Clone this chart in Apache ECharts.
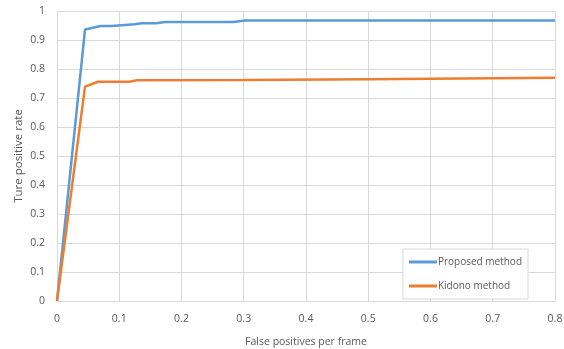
<!DOCTYPE html>
<html>
<head>
<meta charset="utf-8">
<script src="https://cdn.jsdelivr.net/npm/echarts@6/dist/echarts.min.js"></script>
<style>
  html, body { margin: 0; padding: 0; background: #fff; }
  #chart { width: 564px; height: 349px; }
</style>
</head>
<body>
<div id="chart"></div>
<script>
// false positives per frame (x) and true positive rate (y)
const proposedX = [0, 0.045, 0.07, 0.088, 0.125, 0.136, 0.16, 0.173, 0.283, 0.302, 0.8]
const proposedY = [0, 0.936, 0.948, 0.948, 0.954, 0.958, 0.958, 0.962, 0.962, 0.967, 0.967]
const kidonoX = [0, 0.045, 0.066, 0.117, 0.128, 0.3, 0.5, 0.8]
const kidonoY = [0, 0.739, 0.756, 0.756, 0.761, 0.762, 0.765, 0.77]
const seriesNames = ['Proposed method', 'Kidono method']

const pairs = (xs, ys) => xs.map((x, i) => [x, ys[i]])

const chart = echarts.init(document.getElementById('chart'))
const labelFont = { color: '#595959', fontSize: 10.5, fontFamily: 'Open Sans' }

chart.setOption({
  animation: false,
  grid: { left: 57, right: 9, top: 11, bottom: 48, outerBoundsMode: 'none' },
  legend: {
    right: 36,
    top: 249,
    orient: 'vertical',
    itemWidth: 28,
    itemHeight: 3,
    itemGap: 14,
    padding: [8, 6, 8, 6],
    borderColor: '#d9d9d9',
    borderWidth: 1,
    backgroundColor: '#fff',
    icon: 'rect',
    textStyle: { color: '#595959', fontSize: 10, fontFamily: 'Open Sans', padding: [0, 0, 0, -4] },
    data: seriesNames
  },
  xAxis: {
    type: 'value',
    min: 0,
    max: 0.8,
    interval: 0.1,
    name: 'False positives per frame',
    nameLocation: 'middle',
    nameGap: 36,
    nameMoveOverlap: false,
    nameTextStyle: labelFont,
    axisLine: { lineStyle: { color: '#d9d9d9' } },
    axisTick: { show: false },
    axisLabel: Object.assign({ margin: 13, formatter: v => String(+v.toFixed(1)) }, labelFont),
    splitLine: { lineStyle: { color: '#d9d9d9' } }
  },
  yAxis: {
    type: 'value',
    min: 0,
    max: 1,
    interval: 0.1,
    name: 'Ture positive rate',
    nameLocation: 'middle',
    nameGap: 32,
    nameMoveOverlap: false,
    nameTextStyle: Object.assign({}, labelFont, { fontSize: 11.5 }),
    axisLine: { show: false },
    axisTick: { show: false },
    axisLabel: Object.assign({ margin: 12, formatter: v => String(+v.toFixed(1)) }, labelFont),
    splitLine: { lineStyle: { color: '#d9d9d9' } }
  },
  series: [
    {
      name: seriesNames[0],
      type: 'line',
      showSymbol: false,
      color: '#5B9BD5',
      lineStyle: { width: 2.5 },
      data: pairs(proposedX, proposedY)
    },
    {
      name: seriesNames[1],
      type: 'line',
      showSymbol: false,
      color: '#ED7D31',
      lineStyle: { width: 2.5 },
      data: pairs(kidonoX, kidonoY)
    }
  ]
})
</script>
</body>
</html>
